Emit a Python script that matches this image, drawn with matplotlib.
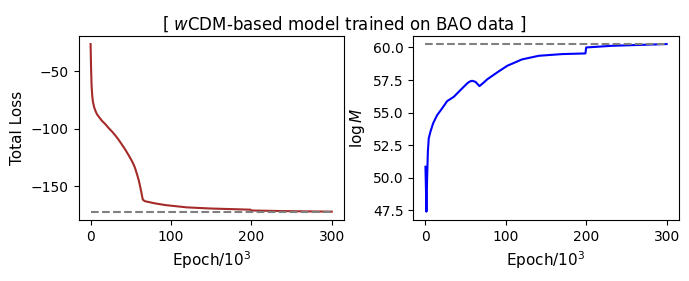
import numpy as np
import matplotlib
matplotlib.use("Agg")
import matplotlib.pyplot as plt

# Values (epochs in units of 10^3)
loss_epoch = [0, 0.5, 1.2, 2, 2.9, 4.5, 6.2, 8, 10.3, 14, 18.6, 22, 26.9, 31,
              35, 39, 43.4, 47.5, 51.7, 55, 57.9, 60, 62, 63.5, 64.9, 67.4,
              80, 93, 120, 150, 180, 199, 200, 230, 260, 300]
loss_value = [-26.4, -45, -62.3, -71, -76.7, -81.5, -84.7, -87.5, -89.6,
              -93, -96.2, -99, -102.6, -106, -109.7, -113.8, -118.4, -123.2,
              -128.4, -133.5, -139.9, -145, -151.4, -156.5, -161.5, -162.9,
              -164.8, -166.3, -168.3, -169.3, -169.9, -170.3, -171, -171.4,
              -171.7, -172]
loss_target = -172

logm_epoch = [0, 0.6, 1.2, 2, 3, 4.1, 6.2, 9.5, 14.5, 20.7, 27, 35.3, 43.6,
              51.9, 55, 58, 62.2, 67.2, 72, 76.8, 89.2, 101.7, 120, 141, 170,
              199, 200, 233, 270, 300]
logm_value = [50.84, 49.2, 47.39, 49.8, 52.0, 53.02, 53.53, 54.17, 54.8,
              55.32, 55.88, 56.21, 56.73, 57.24, 57.38, 57.44, 57.36, 57.03,
              57.28, 57.55, 58.08, 58.59, 59.08, 59.36, 59.49, 59.54, 60.0,
              60.13, 60.2, 60.26]
logm_target = 60.26

fig = plt.figure(figsize=(6.89, 2.81), dpi=100)
ax1 = fig.add_axes([0.114, 0.217, 0.385, 0.656])
ax2 = fig.add_axes([0.600, 0.217, 0.385, 0.656])

ax1.plot(loss_epoch, loss_value, color="brown", lw=1.5)
ax1.plot([0, 300], [loss_target, loss_target], "--", color="gray", lw=1.5)
ax1.set_xlabel("Epoch/$10^3$", fontsize=11)
ax1.set_ylabel("Total Loss", fontsize=11)

ax2.plot(logm_epoch, logm_value, color="blue", lw=1.5)
ax2.plot([0, 300], [logm_target, logm_target], "--", color="gray", lw=1.5)
ax2.set_xlabel("Epoch/$10^3$", fontsize=11)
ax2.set_ylabel(r"$\log M$", fontsize=11)

fig.suptitle("[ $w$CDM-based model trained on BAO data ]", fontsize=12, y=0.95)

fig.savefig("out.png", dpi=100)
